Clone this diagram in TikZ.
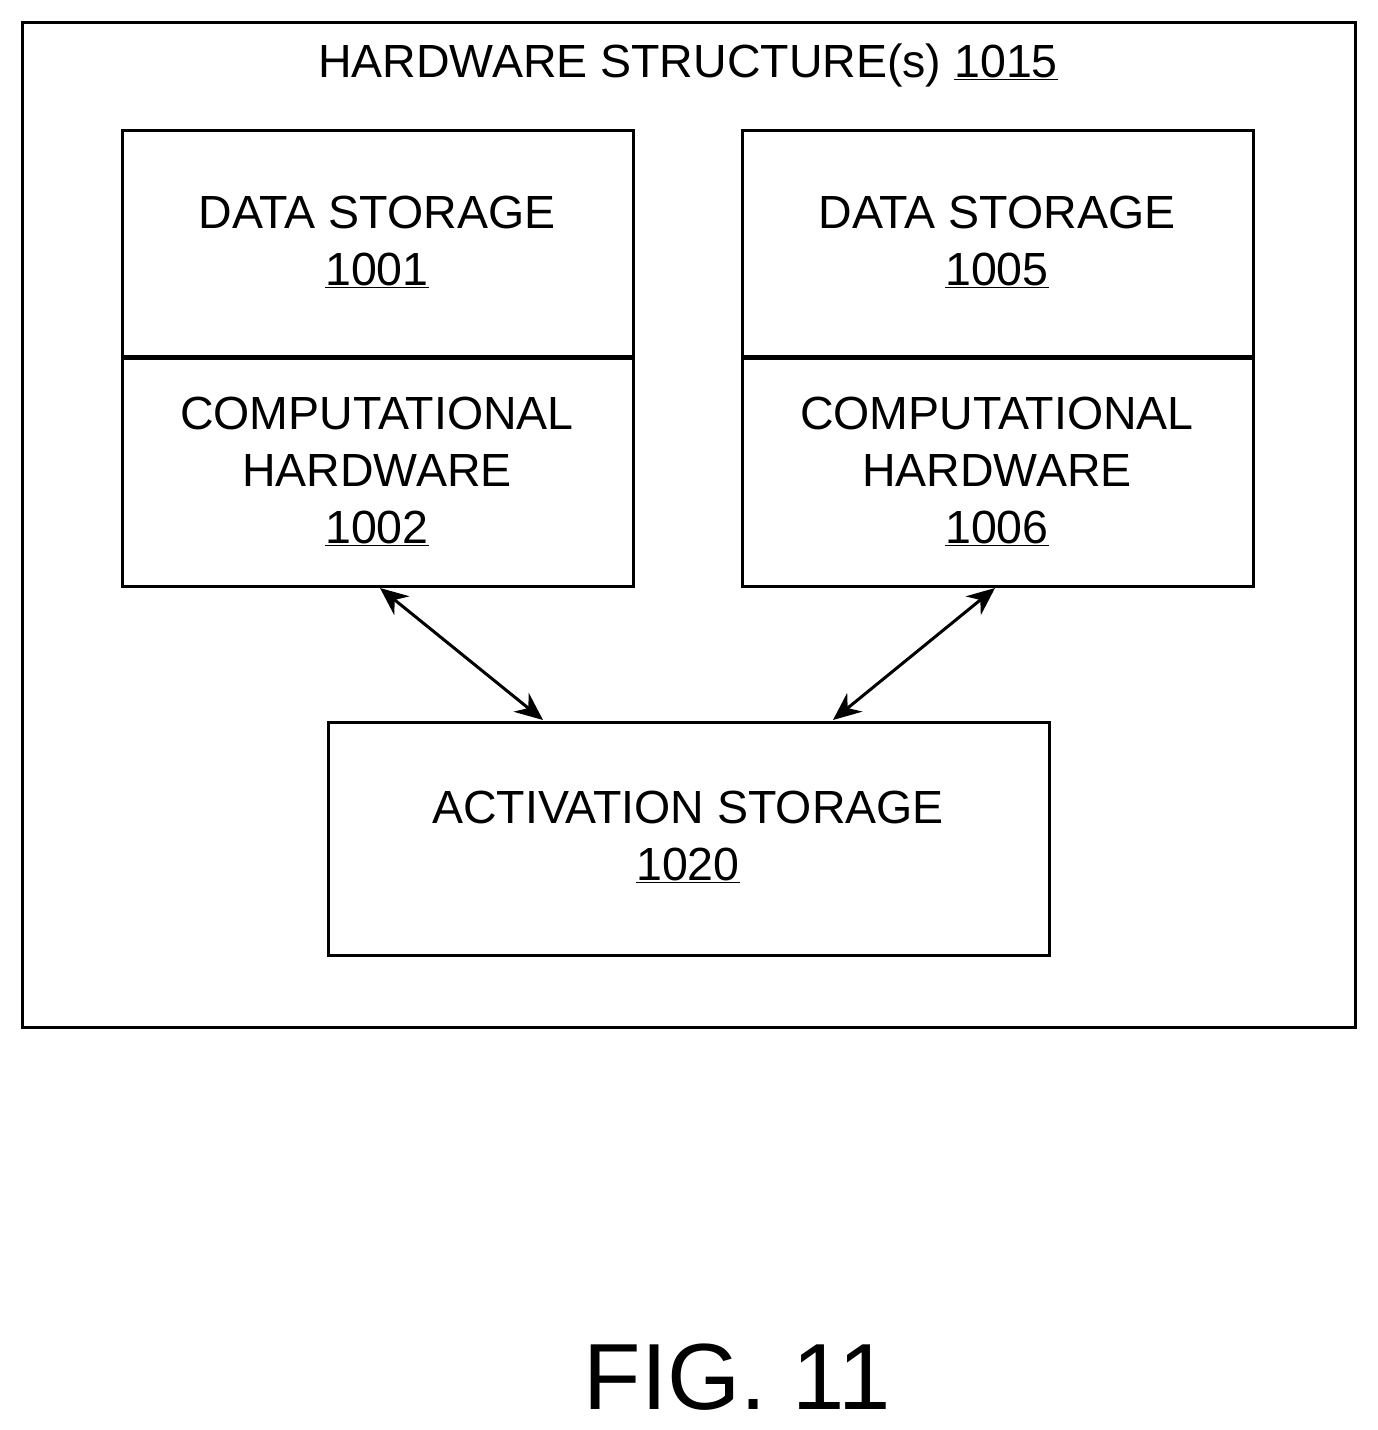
\documentclass[tikz,border=0pt]{standalone}
\usepackage{fontspec}
\setmainfont{Liberation Sans}
\usetikzlibrary{arrows.meta}
\begin{document}
\begin{tikzpicture}[x=1pt,y=-1pt,
  box/.style={draw,line width=3pt},
  lbl/.style={font=\fontsize{46.5}{57}\selectfont,align=center,inner sep=0pt,anchor=center},
  arr/.style={line width=3pt,{Stealth[length=28pt,width=24pt]}-{Stealth[length=28pt,width=24pt]}}]
\useasboundingbox (0,0) rectangle (1377,1430);
\draw[box] (22,22) rectangle (1355,1027);
\node[lbl] (t) at (688,65) {HARDWARE STRUCTURE(s) \underline{1015}};
\node[box,minimum width=511pt,minimum height=456pt,inner sep=0pt] (L) at (377.5,358) {};
\draw[line width=5pt] (L.west |- 0,357) -- (L.east |- 0,357);
\node[lbl] (ds1) at (377,242) {DATA STORAGE\\\underline{1001}};
\node[lbl] (ch1) at (377,471) {COMPUTATIONAL\\HARDWARE\\\underline{1002}};
\node[box,minimum width=511pt,minimum height=456pt,inner sep=0pt] (R) at (997.5,358) {};
\draw[line width=5pt] (R.west |- 0,357) -- (R.east |- 0,357);
\node[lbl] (ds2) at (997,242) {DATA STORAGE\\\underline{1005}};
\node[lbl] (ch2) at (997,471) {COMPUTATIONAL\\HARDWARE\\\underline{1006}};
\node[box,minimum width=721pt,minimum height=233pt,inner sep=0pt] (A) at (688.5,838.5) {};
\node[lbl] (al) at (688,837) {ACTIVATION STORAGE\\\underline{1020}};
\coordinate (l1) at (380,588); \coordinate (l2) at (543,720);
\coordinate (r1) at (995,588); \coordinate (r2) at (833,720);
\draw[arr] (l1) -- (l2);
\draw[arr] (r1) -- (r2);
\node[font=\fontsize{94}{100}\selectfont,inner sep=0pt] (fig) at (737,1377) {FIG. 11};
\end{tikzpicture}
\end{document}
